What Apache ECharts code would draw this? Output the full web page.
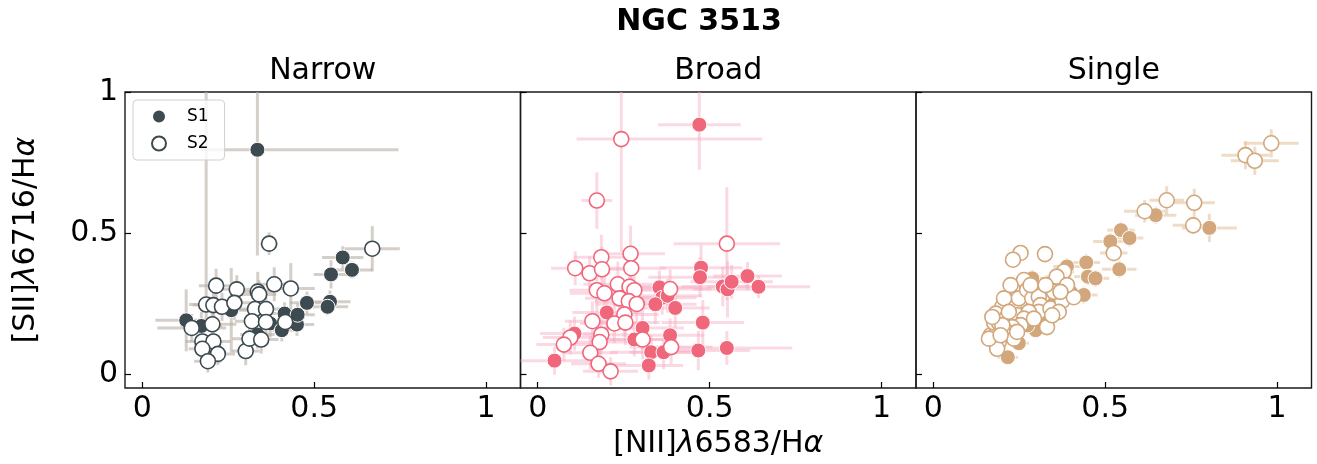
<!DOCTYPE html>
<html>
<head>
<meta charset="utf-8">
<script src="https://cdn.jsdelivr.net/npm/echarts@6/dist/echarts.min.js"></script>
<style>html,body{margin:0;padding:0;background:#fff}#c{width:1317px;height:464px}</style>
</head>
<body>
<div id="c"></div>
<script>
// Each point: [x, y, xerr, yerr] or asymmetric [x, y, xerrLow, xerrHigh, yerrLow, yerrHigh]
const panelTitles = ['Narrow', 'Broad', 'Single'];
const tickValues = [0, 0.5, 1];

const narrowS1 = [
  [0.335, 0.795, 0.165, 0.41, 0.375, 0.375],
  [0.128, 0.19, 0.09, 0.11], [0.172, 0.17, 0.06, 0.05], [0.259, 0.226, 0.07, 0.15],
  [0.372, 0.179, 0.05, 0.05], [0.414, 0.214, 0.05, 0.04], [0.406, 0.155, 0.04, 0.04],
  [0.45, 0.175, 0.05, 0.04], [0.452, 0.21, 0.05, 0.04], [0.479, 0.252, 0.05, 0.04],
  [0.583, 0.413, 0.06, 0.04], [0.549, 0.353, 0.05, 0.05], [0.61, 0.369, 0.06, 0.03],
  [0.546, 0.256, 0.06, 0.04], [0.539, 0.238, 0.06, 0.03], [0.335, 0.14, 0.05, 0.05]
];
const narrowS2 = [
  [0.369, 0.462, 0.025, 0.04], [0.215, 0.313, 0.05, 0.06], [0.275, 0.30, 0.06, 0.05],
  [0.336, 0.292, 0.05, 0.07], [0.34, 0.282, 0.05, 0.05], [0.384, 0.318, 0.05, 0.06],
  [0.432, 0.303, 0.07, 0.09], [0.186, 0.246, 0.05, 0.05, 0.06, 0.8], [0.207, 0.244, 0.06, 0.05],
  [0.232, 0.238, 0.05, 0.05], [0.268, 0.252, 0.05, 0.06], [0.328, 0.23, 0.05, 0.05],
  [0.36, 0.23, 0.05, 0.06], [0.319, 0.187, 0.05, 0.05], [0.36, 0.184, 0.04, 0.05],
  [0.144, 0.163, 0.1, 0.05], [0.204, 0.176, 0.07, 0.05], [0.175, 0.115, 0.05, 0.06],
  [0.207, 0.115, 0.05, 0.05], [0.175, 0.089, 0.04, 0.05], [0.22, 0.071, 0.05, 0.04],
  [0.191, 0.045, 0.04, 0.04], [0.301, 0.081, 0.04, 0.05], [0.312, 0.125, 0.05, 0.05],
  [0.346, 0.122, 0.05, 0.05], [0.416, 0.184, 0.04, 0.04], [0.669, 0.444, 0.08, 0.08]
];
const broadS1 = [
  [0.47, 0.884, 0.12, 0.16], [0.049, 0.047, 0.1, 0.05], [0.201, 0.218, 0.1, 0.08],
  [0.107, 0.143, 0.1, 0.06], [0.354, 0.307, 0.12, 0.06], [0.362, 0.27, 0.1, 0.06],
  [0.342, 0.247, 0.12, 0.07], [0.378, 0.277, 0.1, 0.06], [0.40, 0.234, 0.1, 0.07],
  [0.305, 0.163, 0.12, 0.08], [0.281, 0.122, 0.1, 0.06], [0.33, 0.077, 0.12, 0.06],
  [0.323, 0.03, 0.1, 0.05], [0.366, 0.077, 0.1, 0.06], [0.385, 0.137, 0.1, 0.06],
  [0.475, 0.377, 0.12, 0.08], [0.472, 0.343, 0.15, 0.07], [0.48, 0.182, 0.12, 0.08],
  [0.467, 0.083, 0.15, 0.07], [0.55, 0.092, 0.19, 0.06], [0.538, 0.31, 0.12, 0.07],
  [0.552, 0.30, 0.1, 0.1], [0.564, 0.327, 0.12, 0.06], [0.61, 0.347, 0.1, 0.05],
  [0.642, 0.309, 0.15, 0.04]
];
const broadS2 = [
  [0.243, 0.833, 0.13, 0.41, 0.4, 0.4], [0.172, 0.615, 0.045, 0.1], [0.185, 0.414, 0.08, 0.08],
  [0.27, 0.426, 0.1, 0.1], [0.109, 0.375, 0.07, 0.06], [0.151, 0.357, 0.06, 0.06],
  [0.187, 0.371, 0.07, 0.08], [0.272, 0.375, 0.1, 0.08], [0.172, 0.297, 0.08, 0.08],
  [0.194, 0.286, 0.1, 0.07], [0.233, 0.318, 0.1, 0.08], [0.267, 0.309, 0.12, 0.07],
  [0.281, 0.297, 0.1, 0.08], [0.238, 0.268, 0.1, 0.07], [0.265, 0.258, 0.1, 0.08],
  [0.288, 0.248, 0.12, 0.08], [0.385, 0.301, 0.12, 0.07], [0.252, 0.211, 0.1, 0.08],
  [0.159, 0.187, 0.08, 0.07], [0.223, 0.179, 0.1, 0.07], [0.255, 0.182, 0.1, 0.08],
  [0.185, 0.139, 0.09, 0.07], [0.18, 0.113, 0.1, 0.08], [0.095, 0.129, 0.08, 0.06],
  [0.076, 0.104, 0.08, 0.06], [0.153, 0.075, 0.08, 0.06], [0.177, 0.036, 0.08, 0.05],
  [0.212, 0.009, 0.08, 0.05], [0.305, 0.122, 0.1, 0.07], [0.388, 0.095, 0.12, 0.06],
  [0.55, 0.462, 0.155, 0.2]
];
const singleS1 = [
  [0.217, 0.059, 0.03, 0.02], [0.249, 0.109, 0.03, 0.02], [0.298, 0.155, 0.03, 0.02],
  [0.274, 0.172, 0.03, 0.02], [0.331, 0.315, 0.04, 0.03], [0.288, 0.339, 0.04, 0.03],
  [0.389, 0.381, 0.04, 0.03], [0.445, 0.395, 0.04, 0.03], [0.45, 0.345, 0.04, 0.03],
  [0.472, 0.339, 0.04, 0.03], [0.438, 0.28, 0.04, 0.03], [0.515, 0.47, 0.05, 0.03],
  [0.546, 0.51, 0.04, 0.03], [0.571, 0.482, 0.04, 0.03], [0.541, 0.371, 0.05, 0.03],
  [0.647, 0.563, 0.06, 0.03], [0.803, 0.518, 0.08, 0.05], [0.35, 0.25, 0.03, 0.02],
  [0.32, 0.21, 0.03, 0.02], [0.40, 0.29, 0.03, 0.02]
];
const singleS2 = [
  [0.983, 0.818, 0.08, 0.05], [0.908, 0.776, 0.07, 0.05], [0.935, 0.756, 0.07, 0.05],
  [0.679, 0.616, 0.05, 0.05], [0.759, 0.607, 0.06, 0.05], [0.615, 0.577, 0.06, 0.04],
  [0.756, 0.527, 0.06, 0.03], [0.525, 0.429, 0.04, 0.03], [0.254, 0.429, 0.02, 0.02],
  [0.232, 0.405, 0.02, 0.02], [0.325, 0.425, 0.02, 0.02], [0.38, 0.363, 0.03, 0.02],
  [0.359, 0.345, 0.03, 0.02],
  [0.167, 0.137, 0.02, 0.015], [0.185, 0.149, 0.02, 0.015], [0.191, 0.113, 0.02, 0.015],
  [0.186, 0.089, 0.02, 0.015], [0.201, 0.238, 0.02, 0.015], [0.182, 0.214, 0.02, 0.015],
  [0.177, 0.182, 0.02, 0.015], [0.191, 0.182, 0.02, 0.015], [0.211, 0.196, 0.02, 0.015],
  [0.225, 0.208, 0.02, 0.015], [0.235, 0.232, 0.02, 0.015], [0.244, 0.208, 0.02, 0.015],
  [0.24, 0.304, 0.02, 0.015], [0.264, 0.333, 0.02, 0.015], [0.249, 0.268, 0.02, 0.015],
  [0.273, 0.298, 0.02, 0.015], [0.288, 0.268, 0.02, 0.015], [0.307, 0.274, 0.02, 0.015],
  [0.312, 0.244, 0.02, 0.015], [0.307, 0.22, 0.02, 0.015], [0.278, 0.22, 0.02, 0.015],
  [0.264, 0.196, 0.02, 0.015], [0.254, 0.173, 0.02, 0.015], [0.23, 0.166, 0.02, 0.015],
  [0.215, 0.149, 0.02, 0.015], [0.235, 0.125, 0.02, 0.015], [0.341, 0.232, 0.02, 0.015],
  [0.331, 0.166, 0.02, 0.015], [0.375, 0.259, 0.02, 0.015], [0.409, 0.272, 0.02, 0.015],
  [0.365, 0.22, 0.02, 0.015], [0.351, 0.291, 0.02, 0.015], [0.389, 0.315, 0.02, 0.015],
  [0.206, 0.268, 0.02, 0.015], [0.225, 0.315, 0.02, 0.015], [0.201, 0.173, 0.02, 0.015],
  [0.172, 0.202, 0.02, 0.015], [0.162, 0.125, 0.02, 0.015], [0.196, 0.137, 0.02, 0.015],
  [0.22, 0.22, 0.02, 0.015], [0.283, 0.315, 0.02, 0.015], [0.327, 0.315, 0.02, 0.015],
  [0.346, 0.208, 0.02, 0.015], [0.37, 0.291, 0.02, 0.015], [0.293, 0.196, 0.02, 0.015],
  [0.244, 0.149, 0.02, 0.015]
];

const FONT = 'DejaVu Sans';
const FS = 30;
const panels = [
  {s1: narrowS1, s2: narrowS2, color: '#3d4a4f', err: 'rgba(185,175,165,0.6)'},
  {s1: broadS1, s2: broadS2, color: '#f0677b', err: 'rgba(246,170,192,0.45)'},
  {s1: singleS1, s2: singleS2, color: '#d2a77c', err: 'rgba(226,196,160,0.6)'}
];

function norm(p) {
  return p.length === 6 ? p.slice() : [p[0], p[1], p[2], p[2], p[3], p[3]];
}

const lefts = [125, 520.5, 916];
const W = 395.5, TOP = 92, H = 296;

const nameStyle = {fontSize: FS, fontFamily: FONT, color: '#000',
  rich: {i: {fontStyle: 'italic', fontSize: FS, fontFamily: FONT, color: '#000'}}};

const grids = [], xAxes = [], yAxes = [], series = [];
panels.forEach((pn, i) => {
  grids.push({left: lefts[i], top: TOP, width: W, height: H, show: true,
    borderColor: '#1a1a1a', borderWidth: 1.4, backgroundColor: 'transparent'});
  xAxes.push({type: 'value', gridIndex: i, min: -0.05, max: 1.1, position: 'bottom',
    axisLine: {show: false, onZero: false}, splitLine: {show: false},
    axisTick: {inside: true, length: 6, lineStyle: {color: '#000', width: 1.2}, customValues: tickValues},
    axisLabel: {customValues: tickValues, fontSize: FS, fontFamily: FONT, color: '#000', margin: 6},
    name: i === 1 ? '[NII]{i|λ}6583/H{i|α}' : '', nameLocation: 'middle', nameGap: 38,
    nameTextStyle: nameStyle
  });
  yAxes.push({type: 'value', gridIndex: i, min: -0.05, max: 1.0, position: 'left',
    axisLine: {show: false, onZero: false}, splitLine: {show: false},
    axisTick: {inside: true, length: 6, lineStyle: {color: '#000', width: 1.2}, customValues: tickValues},
    axisLabel: {show: i === 0, customValues: tickValues, fontSize: FS, fontFamily: FONT, color: '#000', margin: 7},
    name: i === 0 ? '[SII]{i|λ}6716/H{i|α}' : '', nameLocation: 'middle', nameGap: 84,
    nameTextStyle: nameStyle
  });
  const errData = pn.s1.concat(pn.s2).map(norm);
  series.push({
    type: 'custom', xAxisIndex: i, yAxisIndex: i, z: 1, silent: true,
    data: errData,
    renderItem: function (params, api) {
      const cs = params.coordSys;
      const x = api.value(0), y = api.value(1);
      const clampX = v => Math.max(cs.x, Math.min(cs.x + cs.width, v));
      const clampY = v => Math.max(cs.y, Math.min(cs.y + cs.height, v));
      const a = api.coord([x - api.value(2), y]);
      const b = api.coord([x + api.value(3), y]);
      const c = api.coord([x, y - api.value(4)]);
      const d = api.coord([x, y + api.value(5)]);
      const st = {stroke: pn.err, lineWidth: 3};
      return {type: 'group', children: [
        {type: 'line', shape: {x1: clampX(a[0]), y1: a[1], x2: clampX(b[0]), y2: b[1]}, style: st},
        {type: 'line', shape: {x1: c[0], y1: clampY(c[1]), x2: d[0], y2: clampY(d[1])}, style: st}
      ]};
    }
  });
  series.push({
    name: i === 0 ? 'S1' : 'S1_' + i, type: 'scatter', xAxisIndex: i, yAxisIndex: i, z: 3,
    symbol: 'circle', symbolSize: 15,
    itemStyle: {color: pn.color, borderColor: '#fff', borderWidth: 1, opacity: 1},
    data: pn.s1.map(p => [p[0], p[1]])
  });
  series.push({
    name: i === 0 ? 'S2' : 'S2_' + i, type: 'scatter', xAxisIndex: i, yAxisIndex: i, z: 4,
    symbol: 'circle', symbolSize: 15,
    itemStyle: {color: '#fff', borderColor: pn.color, borderWidth: 1.6, opacity: 1},
    data: pn.s2.map(p => [p[0], p[1]])
  });
});

const graphics = [
  {type: 'text', x: 699, y: 22, z: 10, style: {text: 'NGC 3513', font: 'bold 30px "DejaVu Sans"', fill: '#000', align: 'center', verticalAlign: 'middle'}}
];
panelTitles.forEach((t, i) => {
  graphics.push({type: 'text', x: lefts[i] + W / 2, y: 71, z: 10,
    style: {text: t, font: FS + 'px "DejaVu Sans"', fill: '#000', align: 'center', verticalAlign: 'middle'}});
});

const chart = echarts.init(document.getElementById('c'), null, {renderer: 'canvas'});
chart.setOption({
  animation: false,
  backgroundColor: '#fff',
  grid: grids, xAxis: xAxes, yAxis: yAxes, series: series,
  graphic: graphics,
  legend: {
    data: ['S1', 'S2'], orient: 'vertical', left: 133, top: 100,
    itemWidth: 14, itemHeight: 14, itemGap: 10, icon: 'circle',
    padding: [8, 16, 8, 18],
    backgroundColor: 'rgba(255,255,255,0.8)', borderColor: '#d0d0d0', borderWidth: 1, borderRadius: 4,
    textStyle: {fontSize: 17, fontFamily: FONT, color: '#000', padding: [0, 0, 0, 16]}
  }
});
</script>
</body>
</html>
